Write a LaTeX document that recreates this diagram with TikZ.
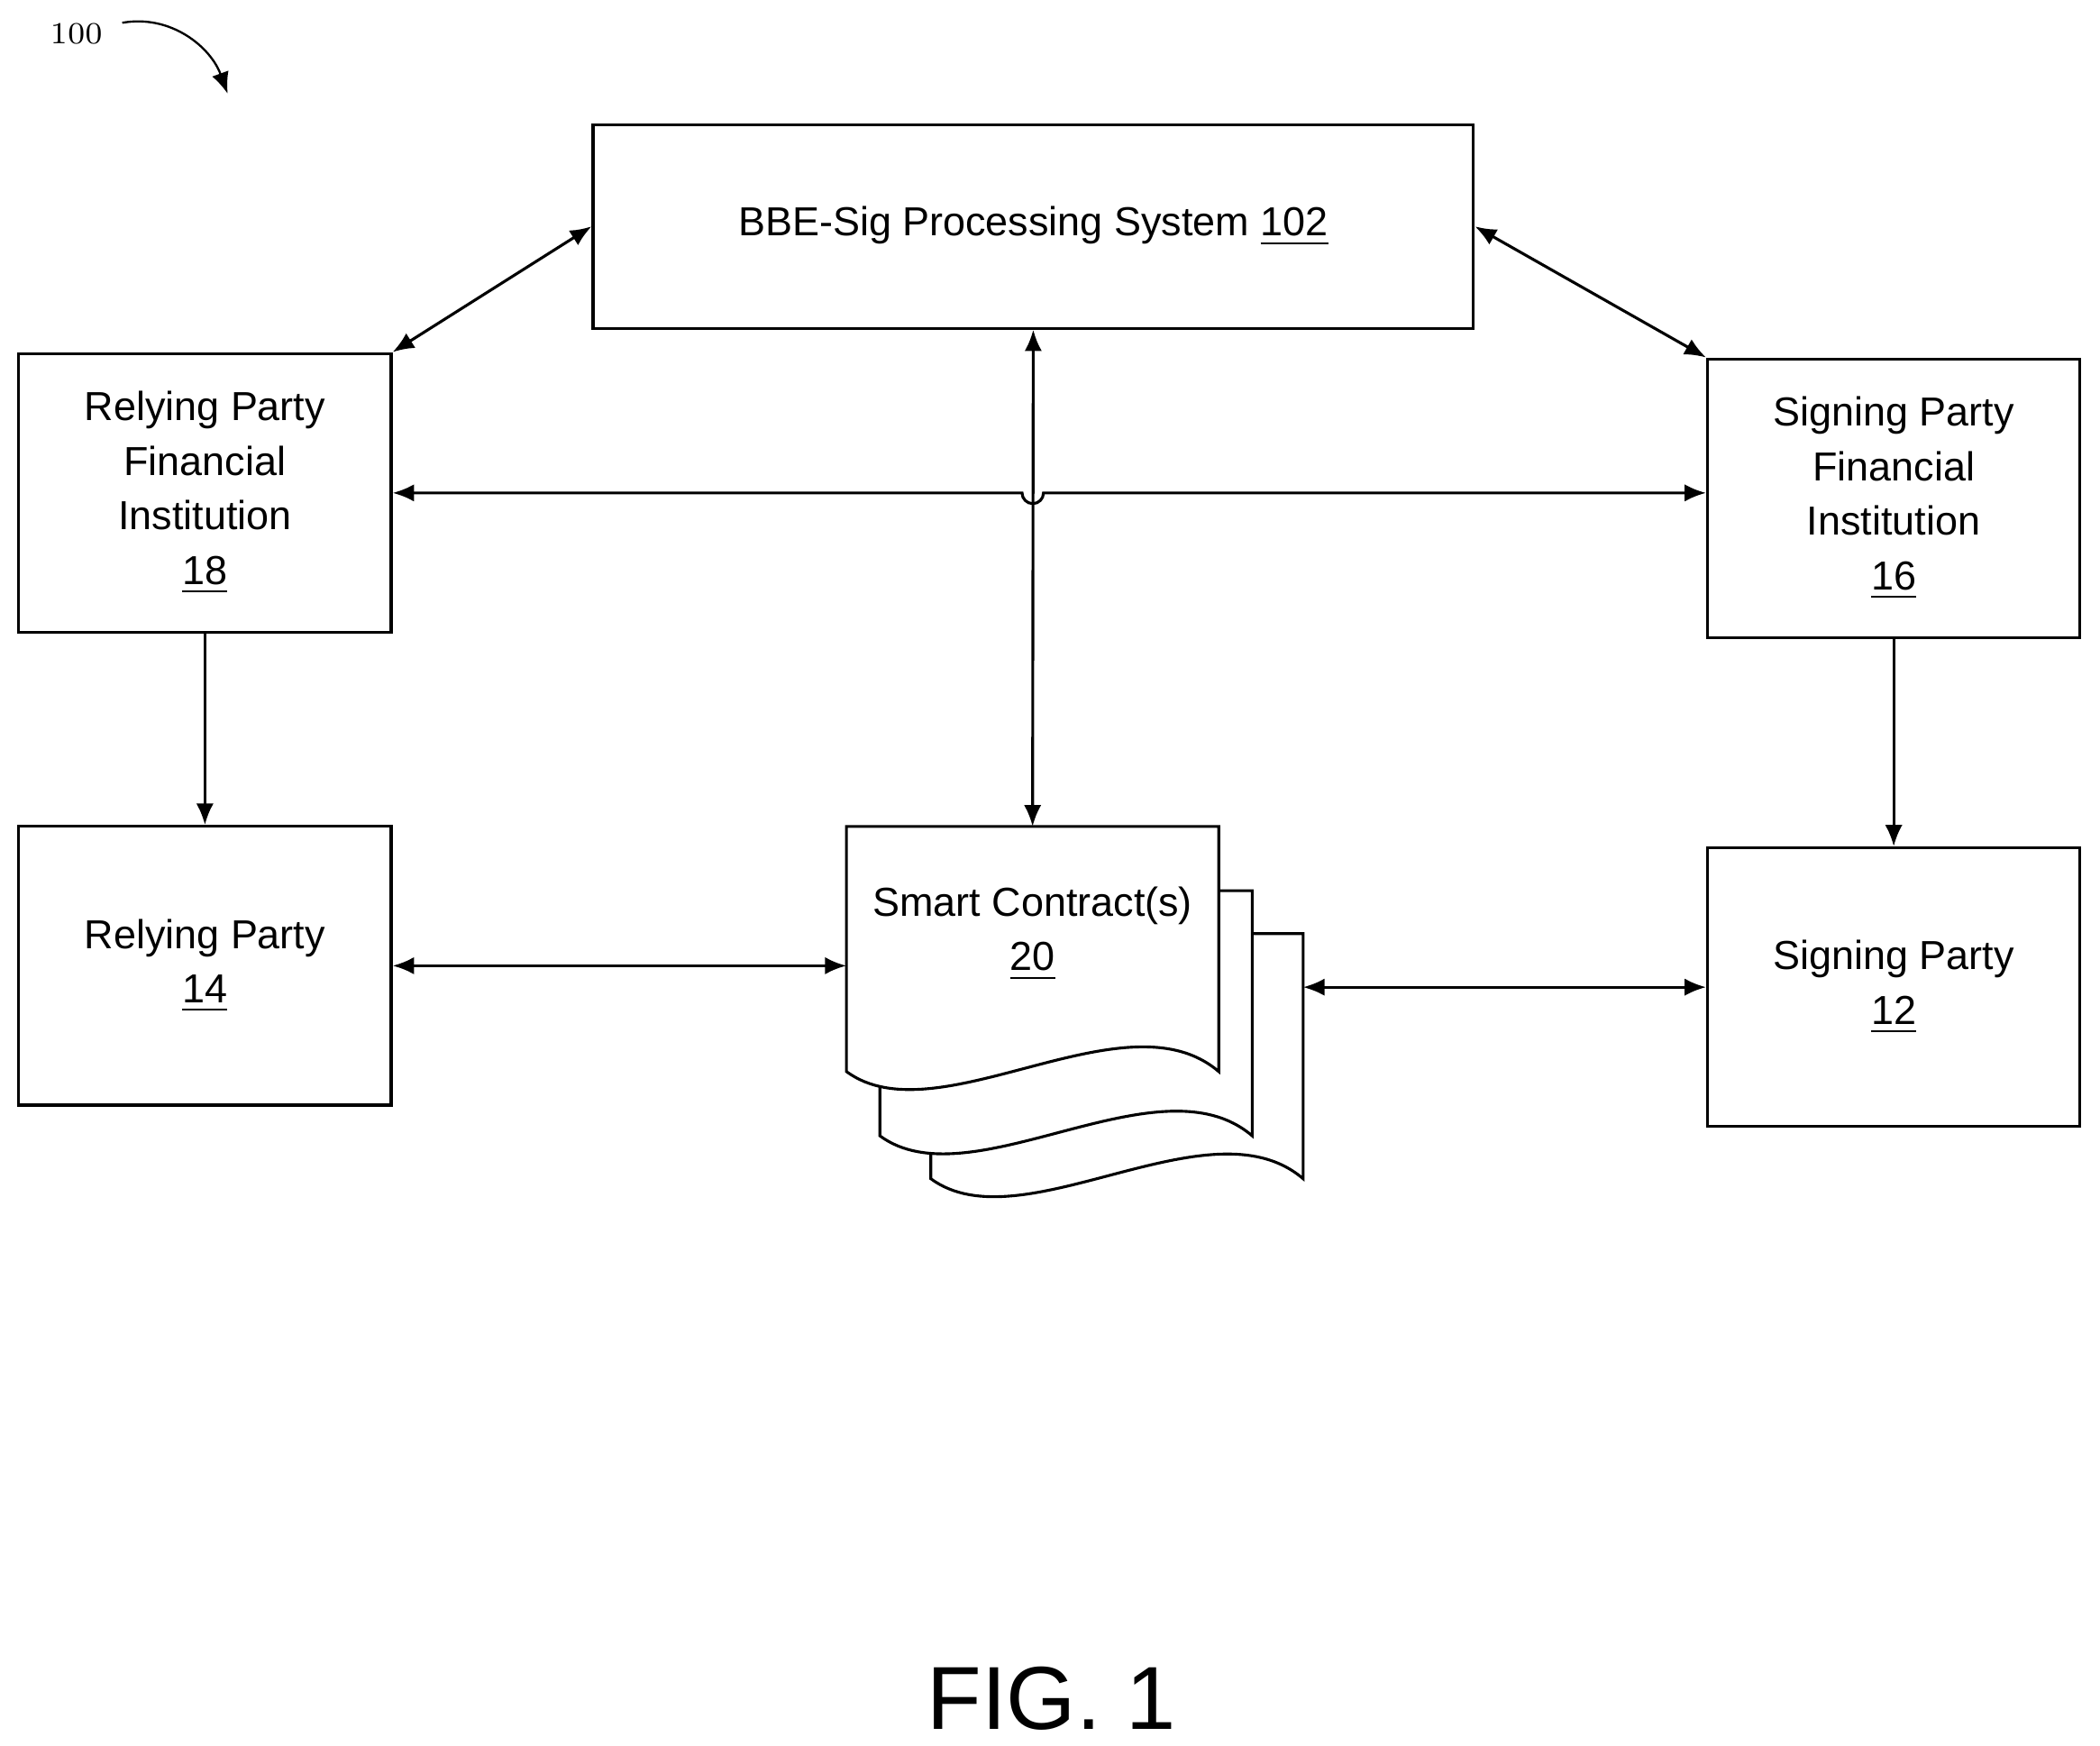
\documentclass[tikz,border=0pt]{standalone}
\usepackage{fontspec}
\setmainfont{Liberation Sans}
\usetikzlibrary{arrows.meta, positioning}

\newcommand{\sheet}[2]{% lower-left corner x, top y
  \draw[fill=white] (#1,#2+183) -- (#1,#2) -- (#1+278,#2) -- (#1+278,#2+183)
    .. controls (#1+208,#2+123) and (#1+68,#2+233) .. cycle;}

\begin{document}
\begin{tikzpicture}[x=0.01cm, y=-0.01cm, line width=0.6pt,
    >={Latex[length=1.6mm, width=1.3mm]},
    box/.style={draw, minimum width=2.78cm, minimum height=2.08cm, align=center,
      font=\fontsize{8.6}{11.6}\selectfont, inner sep=0pt}]
  \useasboundingbox (0,0) rectangle (1568,1303);

  % reference tag
  \node[font=\fontfamily{lmr}\fontsize{6.5}{8}\selectfont] (tag) at (57,25) {100};
  \draw[->, line width=0.45pt] (tag.east) ++(2,-8) to[out=10, in=110] (170,70);

  % boxes
  \node[box, minimum width=6.57cm, minimum height=1.52cm] (bbe) at (771.5,169)
    {BBE-Sig Processing System \underline{102}};
  \node[box] (rpfi) at (153,368) {Relying Party\\Financial\\Institution\\\underline{18}};
  \node[box] (spfi) at (1414,372) {Signing Party\\Financial\\Institution\\\underline{16}};
  \node[box] (rp) at (153,721) {Relying Party\\\underline{14}};
  \node[box] (sp) at (1414,737) {Signing Party\\\underline{12}};

  % smart contract stack
  \sheet{695}{697}
  \sheet{657}{665}
  \sheet{632}{617}
  \coordinate (docfront) at (632,721);
  \coordinate (doctop) at (771,617);
  \coordinate (docback) at (973,737);
  \node[align=center, font=\fontsize{8.6}{11.6}\selectfont] (doc) at (771,697)
    {Smart Contract(s)\\\underline{20}};

  % connectors
  \draw[<->] (bbe.west) -- (rpfi.north east);
  \draw[<->] (bbe.east) -- (spfi.north west);
  \draw[<->] (bbe.south) -- (doctop);
  \draw[<->] (rpfi.east) -- ++(470,0) arc[start angle=180, end angle=0, radius=8]
    -- (rpfi.east -| spfi.west);
  \draw[->] (rpfi.south) -- (rp.north);
  \draw[->] (spfi.south) -- (sp.north);
  \draw[<->] (rp.east) -- (docfront);
  \draw[<->] (docback) -- (sp.west);

  \node[font=\fontsize{19}{22}\selectfont] (fig) at (785,1268) {FIG. 1};
\end{tikzpicture}
\end{document}
